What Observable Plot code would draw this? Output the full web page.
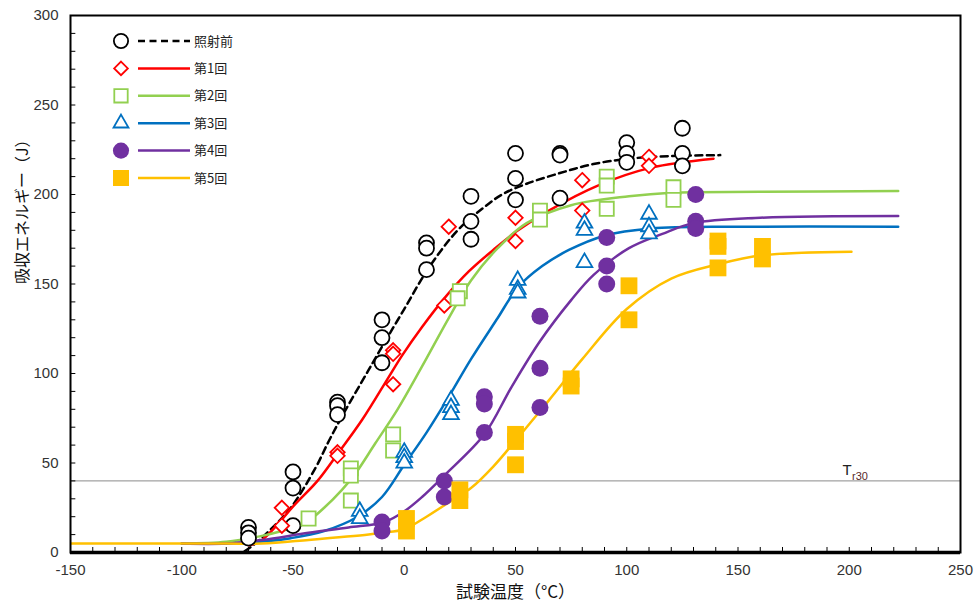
<!DOCTYPE html>
<html><head><meta charset="utf-8">
<script src="https://cdn.jsdelivr.net/npm/d3@7"></script>
<script src="https://cdn.jsdelivr.net/npm/@observablehq/plot@0.6"></script>
<style>
body{margin:0;background:#fff;}
#wrap{position:relative;width:977px;height:611px;overflow:hidden;}
#legend{position:absolute;left:0;top:0;}
</style></head><body><div id="wrap"></div>
<script>
// ---- categories / styles ----
const names = ["照射前","第1回","第2回","第3回","第4回","第5回"];
const colors = ["#000000","#FF0000","#92D050","#0070C0","#7030A0","#FFC000"];
const symbols = ["circle","diamond2","square2","triangle2","circle","square"];
const filled = [false,false,false,false,true,true];

// ---- axis ticks ----
const xTicks = [-150,-100,-50,0,50,100,150,200,250];
const yTicks = [0,50,100,150,200,250,300];
const xMinor = d3.range(-150,251,10);
const yMinor = d3.range(0,301,10);
const tr30 = 40;
const trLabel = {x: 199, y: 40};

// ---- measured points [temperature, energy] ----
const pts0 = [[-70,14],[-70,11],[-70,8],[-50,45],[-50,36],[-50,15],[-30,84],[-30,82],[-30,77],
  [-10,130],[-10,120],[-10,106],[10,173],[10,170],[10,158],[30,199],[30,185],[30,175],
  [50,223],[50,209],[50,197],[70,223],[70,222],[70,198],[100,229],[100,223],[100,218],
  [125,237],[125,223],[125,216]];
const pts1 = [[-55,25],[-55,15],[-30,56],[-30,54],[-5,113],[-5,111],[-5,94],[20,182],[18,138],
  [50,187],[50,174],[80,208],[80,191],[110,221],[110,216]];
const pts2 = [[-43,19],[-24,47],[-24,43],[-24,29],[-5,66],[-5,57],[25,146],[24,142],
  [61,191],[61,186],[91,210],[91,205],[91,192],[121,204],[121,197]];
const pts3 = [[-20,23],[-20,19],[0,56],[0,53],[0,50],[21,85],[21,81],[21,77],
  [51,152],[51,147],[51,145],[81,184],[81,180],[81,162],[110,189],[110,182],[110,178]];
const pts4 = [[-10,17],[-10,12],[18,40],[18,31],[36,87],[36,83],[36,67],[61,132],[61,103],[61,81],
  [91,176],[91,160],[91,150],[131,200],[131,185],[131,181]];
const pts5 = [[1,19],[1,12],[25,35],[25,29],[50,66],[50,62],[50,49],[75,97],[75,93],
  [101,149],[101,130],[141,174],[141,171],[141,159],[161,171],[161,164]];

// ---- fitted curves ----
const crv0 = [[-76,-3],[-67,5],[-60,13],[-51,25],[-40,47],[-34,62],[-28,76],[-16,102],[-10,115],
  [0,136],[11,159],[24,180],[35,192],[44,200],[55,206],[70,212],[85,217],[101,220],[120,221.5],[142,222]];
const crv1 = [[-70,4],[-64,7],[-49,27],[-39,40],[-30,55],[-19,74],[-7,98],[-1,110],[8,126],[18,142],
  [29,157],[40,169],[50,179],[65,191],[87,205],[111,215],[139,220]];
const crv2 = [[-100,5],[-80,6],[-65,9],[-55,12],[-45,16],[-36,25],[-28,35],[-22,44],[-13,61],[-3,80],
  [8,104],[20,131],[30,152],[42,170],[55,184],[75,194],[101,199],[120,201],[160,201.5],[222,202]];
const crv3 = [[-100,5],[-80,5],[-65,6],[-51,8],[-36,12],[-21,20],[-10,31],[0,49],[10,67],[20,87],
  [30,108],[42,131],[51,148],[62,160],[74,169],[90,177],[111,181],[150,182],[222,182]];
const crv4 = [[-100,5],[-80,5],[-64,7],[-43,11],[-25,14],[-9,17],[0,23],[8,31],[18,43],[36,66],
  [48,92],[61,118],[75,141],[85,155],[101,170],[116,178],[130,184],[160,187],[222,188]];
const crv5 = [[-150,5],[-100,5],[-80,5],[-64,5],[-43,7],[-16,10],[-10,11],[0,13],[10,20],[20,28],
  [30,36],[40,48],[51,64],[65,85],[80,108],[100,136],[120,153],[141,161],[161,166],[201,168]];

const ptsAll = [pts0,pts1,pts2,pts3,pts4,pts5];
const crvAll = [crv0,crv1,crv2,crv3,crv4,crv5];
const radii = [7.5,6.5,9,7.5,8.5,9.5];

const marks = [];
marks.push(Plot.ruleY([tr30], {stroke:"#8a8a8a", strokeWidth:1}));
crvAll.forEach((c,i) => {
  marks.push(Plot.line(c, {x:d=>d[0], y:d=>d[1], stroke:colors[i], strokeWidth:2.5,
    curve:"catmull-rom", clip:true, strokeDasharray: i===0 ? "7,4.5" : null}));
});
ptsAll.forEach((p,i) => {
  marks.push(Plot.dot(p, {x:d=>d[0], y:d=>d[1], symbol:symbols[i], r:radii[i],
    fill: filled[i] ? colors[i] : "white", stroke: filled[i] ? "none" : colors[i],
    strokeWidth: 1.8}));
});
marks.push(Plot.ruleX(xMinor, {y1:0, y2:2.8, stroke:"black", strokeWidth:1}));
marks.push(Plot.ruleY(yMinor, {x1:-150, x2:-147.6, stroke:"black", strokeWidth:1}));
marks.push(Plot.frame({stroke:"black", strokeWidth:2}));
marks.push(Plot.ruleY([0], {stroke:"black", strokeWidth:3.5}));
marks.push(Plot.axisX({ticks:xTicks, tickSize:0, tickPadding:12, tickFormat:d=>String(d), label:null}));
marks.push(Plot.axisY({ticks:yTicks, tickSize:0, tickPadding:12, label:null}));
marks.push(Plot.text(["吸収エネルギー（J）"], {frameAnchor:"left", dx:-48, rotate:-90,
  fontSize:16, fontFamily:"Noto Sans CJK JP", fill:"#111"}));
marks.push(Plot.text(["試験温度（°C）"], {frameAnchor:"bottom", dy:45, fontSize:17,
  fontFamily:"Noto Sans CJK JP", fill:"#111"}));
marks.push(Plot.text([trLabel], {x:"x", y:"y", text:()=>"T", dy:-11, fontSize:15, fill:"#222",
  fontFamily:"Liberation Sans"}));
marks.push(Plot.text([trLabel], {x:"x", y:"y", text:()=>"r30", dx:13, dy:-4, fontSize:11, fill:"#5a2a2a",
  fontFamily:"Liberation Sans"}));

const chart = Plot.plot({
  width:977, height:611,
  marginLeft:70, marginRight:17, marginTop:15, marginBottom:59,
  x:{domain:[-150,250]},
  y:{domain:[0,300]},
  style:{fontFamily:"'Liberation Sans Narrow','Liberation Sans',sans-serif", fontSize:"15px", color:"#333", background:"white"},
  marks
});
const wrap = document.getElementById("wrap");
wrap.appendChild(chart);

// ---- legend overlay ----
const lg = d3.select(wrap).append("svg").attr("id","legend").attr("width",977).attr("height",611);
names.forEach((n,i) => {
  const cy = 41 + i*27.4;
  const g = lg.append("g");
  const sym = d3.symbol().type({circle:d3.symbolCircle, diamond2:d3.symbolDiamond2, square2:d3.symbolSquare2,
    triangle2:d3.symbolTriangle2, square:d3.symbolSquare}[symbols[i]]).size(Math.PI*radii[i]*radii[i]*0.9);
  g.append("path").attr("d", sym()).attr("transform",`translate(121,${cy})`)
    .attr("fill", filled[i] ? colors[i] : "white").attr("stroke", filled[i] ? "none" : colors[i]).attr("stroke-width",1.8);
  g.append("line").attr("x1",138).attr("x2",190).attr("y1",cy).attr("y2",cy)
    .attr("stroke",colors[i]).attr("stroke-width",2.5).attr("stroke-dasharray", i===0 ? "7,4.5" : null);
  g.append("text").attr("x",194).attr("y",cy+4.5).text(n).attr("font-size",13)
    .attr("font-family","Noto Sans CJK JP").attr("fill","#222");
});
</script></body></html>
